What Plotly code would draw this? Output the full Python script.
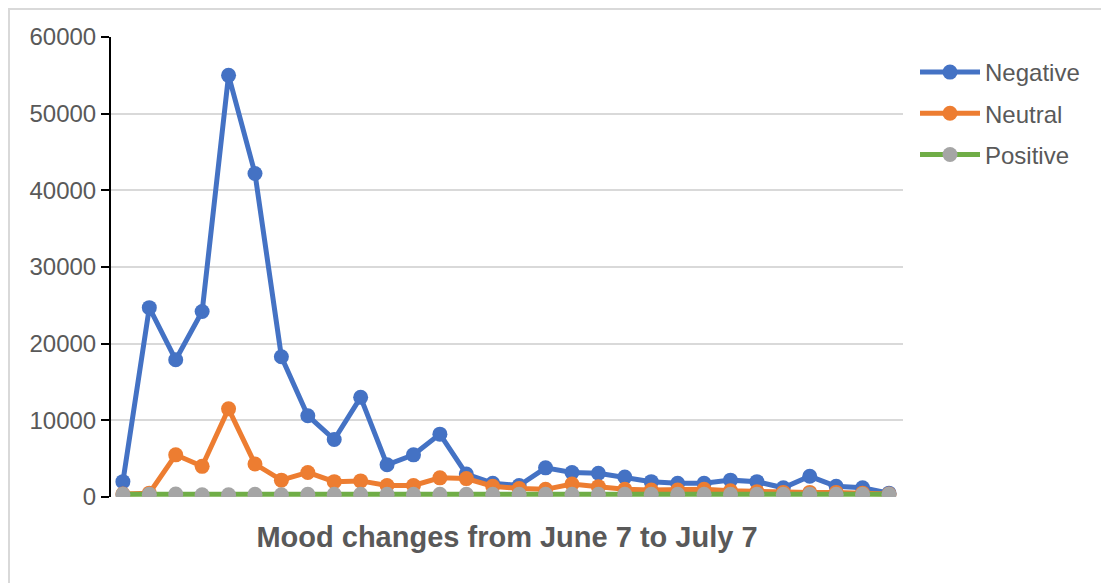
import plotly.graph_objects as go

days = list(range(30))
negative = [2000, 24700, 17900, 24200, 55000, 42200, 18300, 10600, 7500, 13000,
            4200, 5500, 8200, 3000, 1800, 1500, 3800, 3200, 3100, 2600,
            2000, 1800, 1800, 2200, 2000, 1200, 2700, 1400, 1200, 500]
neutral = [400, 500, 5500, 4000, 11500, 4300, 2200, 3200, 2000, 2100,
           1500, 1500, 2500, 2400, 1400, 1100, 1000, 1700, 1350, 1000,
           900, 900, 1000, 800, 700, 600, 600, 600, 500, 400]
positive = [350, 350, 400, 300, 300, 350, 300, 350, 350, 350,
            350, 350, 350, 350, 350, 350, 350, 350, 350, 350,
            350, 350, 350, 350, 350, 350, 350, 350, 350, 350]
y_ticks = [0, 10000, 20000, 30000, 40000, 50000, 60000]

fig = go.Figure()
fig.add_trace(go.Scatter(x=days, y=negative, name="Negative", mode="lines+markers",
                         legendgroup="neg",
                         line=dict(color="#4472C4", width=5),
                         marker=dict(color="#4472C4", size=15)))
fig.add_trace(go.Scatter(x=days, y=neutral, name="Neutral", mode="lines+markers",
                         legendgroup="neu",
                         line=dict(color="#ED7D31", width=5),
                         marker=dict(color="#ED7D31", size=15)))
fig.add_trace(go.Scatter(x=days, y=positive, name="Positive", mode="lines+markers",
                         legendgroup="pos",
                         line=dict(color="#70AD47", width=5),
                         marker=dict(color="#A5A5A5", size=15)))

OFF = 8  # page body margin
W, H = 1109 - OFF, 583 - OFF
L, T = 111 - OFF, 37 - OFF
R = W - (903 - OFF)
B = H - (497 - OFF)
pw, ph = W - L - R, H - T - B

def px(x):
    return (x - OFF - L) / pw

def py(y):
    return (H - B - (y - OFF)) / ph

fig.update_layout(
    width=W, height=H,
    margin=dict(l=L, r=R, t=T, b=B),
    paper_bgcolor="white", plot_bgcolor="white",
    font=dict(family="Liberation Sans, Arial, sans-serif", color="#595959"),
    legend=dict(x=px(915), y=py(50), xanchor="left", yanchor="top",
                traceorder="grouped", tracegroupgap=7,
                font=dict(size=24, color="#595959"),
                itemwidth=60, bgcolor="rgba(0,0,0,0)"),
    xaxis=dict(range=[-0.45, 29.53], showticklabels=False, showgrid=False,
               zeroline=False, showline=False, ticks="",
               title=dict(text="<b>Mood changes from June 7 to July 7</b>",
                          font=dict(size=29, color="#595959"), standoff=29)),
    yaxis=dict(range=[0, 60000], tickvals=y_ticks, showgrid=True,
               gridcolor="#D9D9D9", gridwidth=2, zeroline=False,
               showline=True, linecolor="black", linewidth=2,
               ticks="outside", ticklen=8, tickwidth=2, tickcolor="black",
               tickfont=dict(size=24, color="#595959"), tickformat="d"),
    shapes=[dict(type="rect", xref="paper", yref="paper",
                 x0=px(9), x1=px(1104), y0=py(640), y1=py(9),
                 line=dict(color="#D9D9D9", width=2), layer="below")],
    showlegend=True,
)

fig.write_html("out.html")
